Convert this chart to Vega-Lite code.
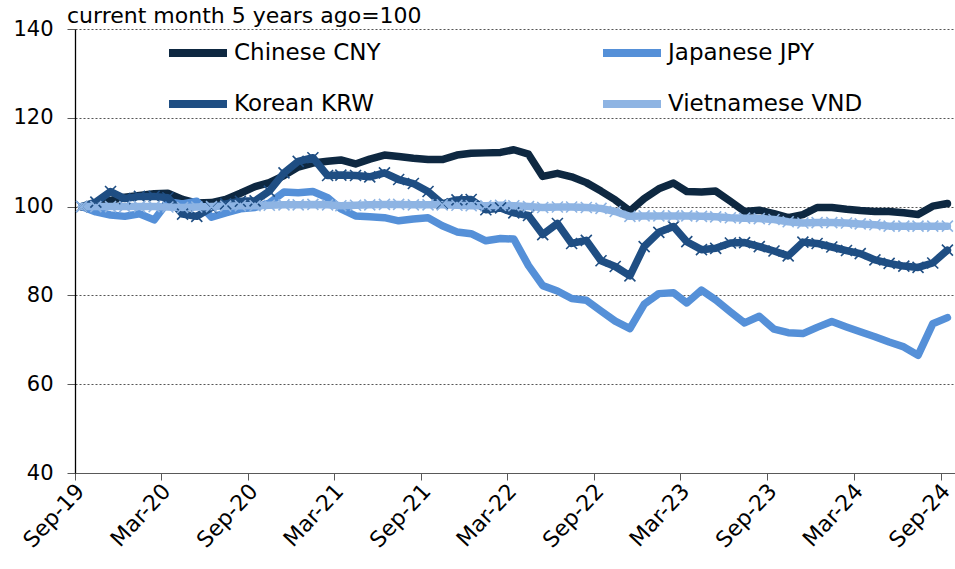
{
  "$schema": "https://vega.github.io/schema/vega-lite/v6.json",
  "width": 880,
  "height": 444,
  "autosize": "none",
  "padding": {"left": 75, "top": 29, "right": 0, "bottom": 96},
  "background": "white",
  "config": {"view": {"stroke": null}, "font": "DejaVu Sans"},
  "title": {"text": "current month 5 years ago=100", "anchor": "start", "frame": "group", "fontSize": 22, "fontWeight": "normal", "color": "black", "dx": -8, "offset": 0, "dy": 27, "baseline": "alphabetic", "font": "DejaVu Sans"},
  "datasets": {
    "wide": [
      {"d": "2019-09-15", "CNY": 100, "JPY": 100, "KRW": 100, "VND": 100},
      {"d": "2019-10-15", "CNY": 100.5, "JPY": 98.8, "KRW": 101, "VND": 100},
      {"d": "2019-11-15", "CNY": 101.4, "JPY": 98.1, "KRW": 103.4, "VND": 100},
      {"d": "2019-12-15", "CNY": 102.1, "JPY": 97.8, "KRW": 101.8, "VND": 100},
      {"d": "2020-01-15", "CNY": 102.5, "JPY": 98.4, "KRW": 102.3, "VND": 100},
      {"d": "2020-02-15", "CNY": 102.9, "JPY": 97, "KRW": 102.3, "VND": 100},
      {"d": "2020-03-15", "CNY": 103, "JPY": 101.1, "KRW": 102, "VND": 99.9},
      {"d": "2020-04-15", "CNY": 101.6, "JPY": 100.6, "KRW": 98.3, "VND": 99.8},
      {"d": "2020-05-15", "CNY": 100.8, "JPY": 101.2, "KRW": 97.8, "VND": 99.9},
      {"d": "2020-06-15", "CNY": 100.9, "JPY": 97.6, "KRW": 99.8, "VND": 100},
      {"d": "2020-07-15", "CNY": 101.6, "JPY": 98.6, "KRW": 100.6, "VND": 100.1},
      {"d": "2020-08-15", "CNY": 103, "JPY": 99.5, "KRW": 101.2, "VND": 100.2},
      {"d": "2020-09-15", "CNY": 104.5, "JPY": 99.8, "KRW": 101.3, "VND": 100.2},
      {"d": "2020-10-15", "CNY": 105.4, "JPY": 100.8, "KRW": 103.5, "VND": 100.3},
      {"d": "2020-11-15", "CNY": 107, "JPY": 103.3, "KRW": 107.6, "VND": 100.4},
      {"d": "2020-12-15", "CNY": 108.9, "JPY": 103.1, "KRW": 110.2, "VND": 100.4},
      {"d": "2021-01-15", "CNY": 109.8, "JPY": 103.4, "KRW": 111, "VND": 100.5},
      {"d": "2021-02-15", "CNY": 110.2, "JPY": 102, "KRW": 107, "VND": 100.4},
      {"d": "2021-03-15", "CNY": 110.5, "JPY": 99.5, "KRW": 107.1, "VND": 100.2},
      {"d": "2021-04-15", "CNY": 109.6, "JPY": 97.9, "KRW": 107, "VND": 100.3},
      {"d": "2021-05-15", "CNY": 110.7, "JPY": 97.7, "KRW": 106.7, "VND": 100.4},
      {"d": "2021-06-15", "CNY": 111.6, "JPY": 97.5, "KRW": 107.6, "VND": 100.5},
      {"d": "2021-07-15", "CNY": 111.3, "JPY": 96.8, "KRW": 106.1, "VND": 100.5},
      {"d": "2021-08-15", "CNY": 110.9, "JPY": 97.2, "KRW": 105.2, "VND": 100.4},
      {"d": "2021-09-15", "CNY": 110.6, "JPY": 97.5, "KRW": 103.4, "VND": 100.4},
      {"d": "2021-10-15", "CNY": 110.6, "JPY": 95.7, "KRW": 100.6, "VND": 100.4},
      {"d": "2021-11-15", "CNY": 111.6, "JPY": 94.3, "KRW": 101.5, "VND": 100.3},
      {"d": "2021-12-15", "CNY": 112, "JPY": 93.9, "KRW": 101.6, "VND": 100.2},
      {"d": "2022-01-15", "CNY": 112.1, "JPY": 92.3, "KRW": 99.3, "VND": 100.2},
      {"d": "2022-02-15", "CNY": 112.2, "JPY": 92.8, "KRW": 99.7, "VND": 100.3},
      {"d": "2022-03-15", "CNY": 112.8, "JPY": 92.7, "KRW": 98.6, "VND": 100.2},
      {"d": "2022-04-15", "CNY": 111.8, "JPY": 86.7, "KRW": 98, "VND": 100},
      {"d": "2022-05-15", "CNY": 106.8, "JPY": 82.2, "KRW": 93.7, "VND": 99.8},
      {"d": "2022-06-15", "CNY": 107.5, "JPY": 81, "KRW": 96.2, "VND": 99.9},
      {"d": "2022-07-15", "CNY": 106.7, "JPY": 79.3, "KRW": 91.7, "VND": 99.9},
      {"d": "2022-08-15", "CNY": 105.4, "JPY": 78.9, "KRW": 92.4, "VND": 99.8},
      {"d": "2022-09-15", "CNY": 103.5, "JPY": 76.5, "KRW": 87.8, "VND": 99.6},
      {"d": "2022-10-15", "CNY": 101.5, "JPY": 74.2, "KRW": 86.5, "VND": 98.9},
      {"d": "2022-11-15", "CNY": 99, "JPY": 72.5, "KRW": 84.4, "VND": 97.8},
      {"d": "2022-12-15", "CNY": 101.8, "JPY": 78, "KRW": 91, "VND": 97.9},
      {"d": "2023-01-15", "CNY": 104, "JPY": 80.4, "KRW": 94.2, "VND": 97.9},
      {"d": "2023-02-15", "CNY": 105.3, "JPY": 80.6, "KRW": 95.5, "VND": 97.9},
      {"d": "2023-03-15", "CNY": 103.4, "JPY": 78.3, "KRW": 92.1, "VND": 97.9},
      {"d": "2023-04-15", "CNY": 103.3, "JPY": 81.2, "KRW": 90.3, "VND": 97.8},
      {"d": "2023-05-15", "CNY": 103.5, "JPY": 79, "KRW": 90.6, "VND": 97.7},
      {"d": "2023-06-15", "CNY": 101.2, "JPY": 76.3, "KRW": 91.8, "VND": 97.5},
      {"d": "2023-07-15", "CNY": 98.9, "JPY": 73.8, "KRW": 91.9, "VND": 97.4},
      {"d": "2023-08-15", "CNY": 99.2, "JPY": 75.3, "KRW": 91, "VND": 97.3},
      {"d": "2023-09-15", "CNY": 98.4, "JPY": 72.4, "KRW": 90, "VND": 97.1},
      {"d": "2023-10-15", "CNY": 97.5, "JPY": 71.6, "KRW": 88.9, "VND": 96.6},
      {"d": "2023-11-15", "CNY": 98.2, "JPY": 71.4, "KRW": 92, "VND": 96.3},
      {"d": "2023-12-15", "CNY": 99.8, "JPY": 72.8, "KRW": 91.7, "VND": 96.4},
      {"d": "2024-01-15", "CNY": 99.8, "JPY": 74.1, "KRW": 90.9, "VND": 96.4},
      {"d": "2024-02-15", "CNY": 99.4, "JPY": 72.9, "KRW": 90.1, "VND": 96.3},
      {"d": "2024-03-15", "CNY": 99.1, "JPY": 71.8, "KRW": 89.4, "VND": 96.1},
      {"d": "2024-04-15", "CNY": 98.9, "JPY": 70.7, "KRW": 88, "VND": 95.9},
      {"d": "2024-05-15", "CNY": 98.9, "JPY": 69.5, "KRW": 87.2, "VND": 95.6},
      {"d": "2024-06-15", "CNY": 98.6, "JPY": 68.4, "KRW": 86.6, "VND": 95.6},
      {"d": "2024-07-15", "CNY": 98.2, "JPY": 66.5, "KRW": 86.3, "VND": 95.6},
      {"d": "2024-08-15", "CNY": 100.1, "JPY": 73.6, "KRW": 87.3, "VND": 95.6},
      {"d": "2024-09-15", "CNY": 100.7, "JPY": 75, "KRW": 90.2, "VND": 95.6}
    ]
  },
  "data": {"name": "wide"},
  "transform": [
    {"fold": ["CNY", "JPY", "KRW", "VND"], "as": ["k", "v"]},
    {"lookup": "k", "from": {"data": {"values": [
      {"k": "CNY", "s": "Chinese CNY"},
      {"k": "JPY", "s": "Japanese JPY"},
      {"k": "KRW", "s": "Korean KRW"},
      {"k": "VND", "s": "Vietnamese VND"}
    ]}, "key": "k", "fields": ["s"]}}
  ],
  "encoding": {
    "x": {
      "field": "d", "type": "temporal",
      "scale": {"type": "utc", "domain": [{"year": 2019, "month": 9, "date": 1, "utc": true}, {"year": 2024, "month": 10, "date": 1, "utc": true}]},
      "axis": {
        "values": [
          {"year": 2019, "month": 9, "date": 1, "utc": true},
          {"year": 2020, "month": 3, "date": 1, "utc": true},
          {"year": 2020, "month": 9, "date": 1, "utc": true},
          {"year": 2021, "month": 3, "date": 1, "utc": true},
          {"year": 2021, "month": 9, "date": 1, "utc": true},
          {"year": 2022, "month": 3, "date": 1, "utc": true},
          {"year": 2022, "month": 9, "date": 1, "utc": true},
          {"year": 2023, "month": 3, "date": 1, "utc": true},
          {"year": 2023, "month": 9, "date": 1, "utc": true},
          {"year": 2024, "month": 3, "date": 1, "utc": true},
          {"year": 2024, "month": 9, "date": 1, "utc": true}
        ],
        "labelExpr": "utcFormat(datum.value, '%b-%y')",
        "labelAngle": -47,
        "labelFontSize": 22,
        "labelFont": "DejaVu Sans",
        "labelColor": "black",
        "labelPadding": 7,
        "labelOffset": 5,
        "labelFlush": false,
        "labelOverlap": false,
        "tickSize": 7,
        "tickColor": "#595959",
        "domainColor": "#595959",
        "domainWidth": 1.2,
        "grid": false,
        "title": null
      }
    },
    "y": {
      "field": "v", "type": "quantitative",
      "scale": {"domain": [40, 140], "nice": false, "zero": false},
      "axis": {
        "values": [40, 60, 80, 100, 120, 140],
        "grid": true,
        "gridDash": [2, 2],
        "gridColor": "#555555",
        "gridWidth": 1,
        "domainColor": "black",
        "domainWidth": 1.3,
        "tickSize": 8,
        "tickColor": "#595959",
        "labelFontSize": 21,
        "labelFont": "DejaVu Sans",
        "labelColor": "black",
        "labelPadding": 14,
        "title": null
      }
    }
  },
  "layer": [
    {
      "mark": {"type": "line", "strokeWidth": 7.5, "strokeCap": "round", "strokeJoin": "round"},
      "encoding": {
        "color": {
          "field": "s", "type": "nominal",
          "scale": {"domain": ["Chinese CNY", "Japanese JPY", "Korean KRW", "Vietnamese VND"], "range": ["#0E2841", "#5590D8", "#1F4E83", "#8EB4E3"]},
          "legend": {
            "orient": "none",
            "legendX": 90,
            "legendY": -9,
            "direction": "horizontal",
            "columns": 2,
            "columnPadding": 206,
            "rowPadding": 2,
            "symbolType": "stroke",
            "symbolStrokeWidth": 8,
            "symbolSize": 3364,
            "labelFontSize": 23,
            "labelFont": "DejaVu Sans",
            "labelColor": "black",
            "labelOffset": 3,
            "labelLimit": 400,
            "title": null
          }
        }
      }
    },
    {
      "transform": [{"filter": {"field": "k", "oneOf": ["KRW", "VND"]}}],
      "mark": {"type": "point", "shape": "M-1,-1L1,1M-1,1L1,-1", "filled": false, "size": 121, "strokeWidth": 1.6, "opacity": 1},
      "encoding": {
        "color": {"field": "s", "type": "nominal", "legend": null}
      }
    }
  ]
}
